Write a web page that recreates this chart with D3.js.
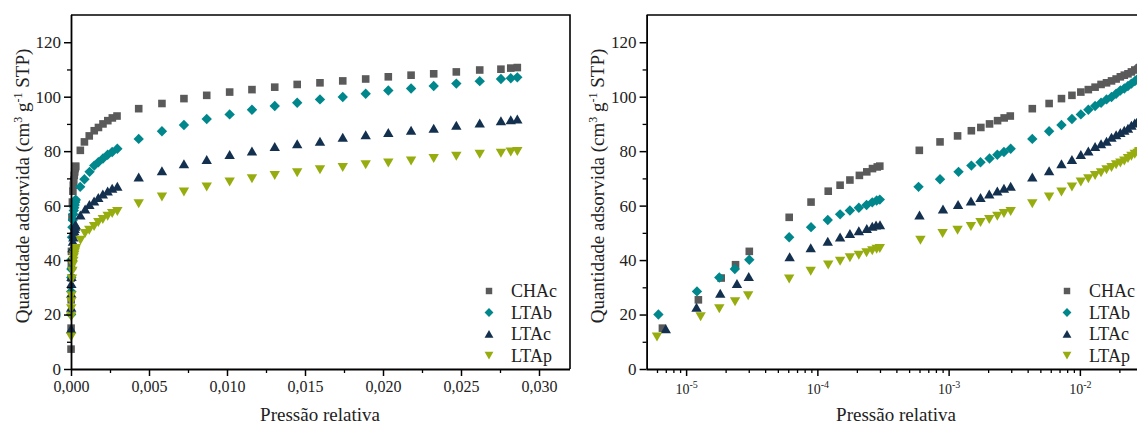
<!DOCTYPE html>
<html>
<head>
<meta charset="utf-8">
<script src="https://cdn.jsdelivr.net/npm/d3@7"></script>
<style>
  html, body { margin: 0; padding: 0; background: #fff; overflow: hidden; }
  svg, svg text { font-family: "Liberation Serif", "Noto Serif", "DejaVu Serif", "Nimbus Roman", "Nimbus Roman No9 L", "FreeSerif", "Tinos", "Times New Roman", Times, serif; }
</style>
</head>
<body>
<svg id="chart" width="1137" height="425"></svg>
<script>
// N2 adsorption isotherms: relative pressure vs adsorbed quantity (cm3/g STP)
const seriesNames = ["CHAc", "LTAb", "LTAc", "LTAp"];
const seriesColors = ["#5a5a5a", "#00878c", "#14304f", "#97ad0f"];
const seriesShapes = ["square", "diamond", "up", "down"];

const highP = [0.00434, 0.00583, 0.00724, 0.00870, 0.01017, 0.01160, 0.01306, 0.01450, 0.01596,
  0.01742, 0.01889, 0.02034, 0.02180, 0.02325, 0.02470, 0.02620, 0.02756, 0.02819, 0.02861];

const pCHAc = [3.0e-6, 6.6e-6, 1.24e-5, 1.85e-5, 2.38e-5, 3.03e-5, 6.1e-5, 8.95e-5, 1.21e-4, 1.49e-4,
  1.77e-4, 2.09e-4, 2.38e-4, 2.63e-4, 2.86e-4, 2.99e-4, 5.98e-4, 8.6e-4, 1.17e-3, 1.49e-3,
  1.76e-3, 2.05e-3, 2.36e-3, 2.65e-3, 2.95e-3, ...highP];
const qCHAc = [7.3, 15.0, 25.4, 33.4, 38.3, 43.2, 55.7, 61.3, 65.3, 67.5,
  69.4, 71.1, 72.4, 73.6, 74.2, 74.5, 80.3, 83.4, 85.6, 87.5,
  88.7, 90.0, 91.2, 92.2, 92.9,
  95.6, 97.5, 99.3, 100.5, 101.7, 102.6, 103.5, 104.5, 105.1, 105.8,
  106.5, 107.3, 107.9, 108.4, 109.1, 109.8, 110.1, 110.5, 110.7];

const pLTAb = [6.15e-6, 1.21e-5, 1.79e-5, 2.35e-5, 3.03e-5, 6.1e-5, 8.95e-5, 1.2e-4, 1.49e-4, 1.77e-4,
  2.07e-4, 2.37e-4, 2.62e-4, 2.83e-4, 2.99e-4, 5.9e-4, 8.6e-4, 1.19e-3, 1.49e-3, 1.75e-3,
  2.05e-3, 2.35e-3, 2.64e-3, 2.97e-3, ...highP];
const qLTAb = [20.0, 28.5, 33.6, 36.7, 40.1, 48.4, 52.1, 54.7, 56.8, 58.2,
  59.2, 60.2, 61.2, 61.9, 62.2, 66.9, 69.7, 72.4, 74.7, 75.9,
  77.3, 78.7, 79.7, 80.9,
  84.5, 87.3, 89.6, 91.8, 93.5, 95.2, 96.6, 97.8, 99.0, 99.9,
  101.1, 102.3, 103.0, 103.9, 104.8, 105.7, 106.5, 106.8, 107.1];

const pLTAc = [7.0e-6, 1.2e-5, 1.82e-5, 2.44e-5, 3.0e-5, 6.15e-5, 8.9e-5, 1.2e-4, 1.49e-4, 1.77e-4,
  2.07e-4, 2.38e-4, 2.62e-4, 2.8e-4, 3.0e-4, 6.0e-4, 9.06e-4, 1.18e-3, 1.48e-3, 1.75e-3,
  2.04e-3, 2.35e-3, 2.64e-3, 2.97e-3, ...highP];
const qLTAc = [14.7, 22.6, 27.8, 31.4, 33.9, 41.2, 44.5, 46.9, 48.4, 49.7,
  50.7, 51.6, 52.4, 52.8, 52.9, 56.5, 58.7, 60.4, 61.7, 62.9,
  64.2, 65.3, 66.3, 67.1,
  70.5, 72.8, 75.3, 76.9, 78.7, 80.0, 81.7, 82.7, 83.6, 85.1,
  86.0, 86.8, 87.6, 88.4, 89.5, 90.3, 91.1, 91.5, 91.8];

const pLTAp = [6.0e-6, 1.29e-5, 1.79e-5, 2.36e-5, 2.97e-5, 6.1e-5, 8.9e-5, 1.21e-4, 1.49e-4, 1.77e-4,
  2.07e-4, 2.37e-4, 2.62e-4, 2.83e-4, 2.99e-4, 6.1e-4, 9.0e-4, 1.17e-3, 1.48e-3, 1.75e-3,
  2.04e-3, 2.35e-3, 2.64e-3, 2.97e-3, ...highP];
const qLTAp = [11.8, 19.2, 22.2, 24.7, 26.9, 33.1, 35.9, 38.2, 39.6, 40.9,
  41.8, 42.7, 43.5, 44.0, 44.3, 47.3, 49.8, 51.0, 52.4, 53.8,
  54.9, 56.1, 57.1, 57.9,
  60.7, 63.2, 65.0, 66.9, 68.7, 69.9, 71.1, 72.1, 73.2, 74.0,
  75.0, 75.7, 76.4, 77.3, 78.2, 78.9, 79.3, 79.7, 79.9];

const linearTicks = [0, 0.005, 0.010, 0.015, 0.020, 0.025, 0.030];
const logTicks = [1e-5, 1e-4, 1e-3, 1e-2];
const yTicks = [0, 20, 40, 60, 80, 100, 120];

const pressures = [pCHAc, pLTAb, pLTAc, pLTAp];
const quantities = [qCHAc, qLTAb, qLTAc, qLTAp];
const series = seriesNames.map((name, i) => ({
  name, color: seriesColors[i], shape: seriesShapes[i],
  points: pressures[i].map((p, j) => ({ p, q: quantities[i][j] }))
}));

const svg = d3.select("#chart");
const plotTop = 15, plotBottom = 369;
const FONT = '"Liberation Serif", "Noto Serif", "DejaVu Serif", "Nimbus Roman", "FreeSerif", "Tinos", "Times New Roman", Times, serif';

// Marker outlines, centred on their bounding box
function markerPath(shape) {
  switch (shape) {
    case "square": return "M-3.8,-3.8H3.8V3.8H-3.8Z";
    case "diamond": return "M0,-5.2L5.2,0L0,5.2L-5.2,0Z";
    case "up": return "M0,-4.6L5.2,4.4L-5.2,4.4Z";
    case "down": return "M0,4.6L5.2,-4.4L-5.2,-4.4Z";
  }
}

function drawPanel(opts) {
  const { left, right, x, xTickValues, xMinor, xFormat, titleX, ylabelX, legendX } = opts;
  const y = d3.scaleLinear().domain([0, 130]).range([plotBottom, plotTop]);
  const g = svg.append("g").attr("font-family", FONT);

  // frame (top and right edges)
  g.append("path")
    .attr("d", `M${left},${plotTop}H${right}V${plotBottom}`)
    .attr("fill", "none").attr("stroke", "#000").attr("stroke-width", 1.6);

  // points
  series.forEach(s => {
    g.append("g").selectAll("path")
      .data(s.points.filter(d => opts.linear || (d.p >= x.domain()[0] && d.p <= x.domain()[1])))
      .join("path")
      .attr("d", markerPath(s.shape))
      .attr("transform", d => `translate(${x(d.p)},${y(d.q)})`)
      .attr("fill", s.color);
  });

  // x axis
  const xAxis = d3.axisBottom(x).tickValues(xTickValues).tickSize(7).tickSizeOuter(0).tickFormat(() => "");
  const xa = g.append("g").attr("transform", `translate(0,${plotBottom})`).call(xAxis).attr("font-family", FONT);
  xa.select(".domain").attr("stroke-width", 1.8).attr("d", `M${left},0.5H${right}`);
  xa.selectAll(".tick line").attr("stroke-width", 1.5);
  xa.selectAll(".tick text").remove();
  const xm = d3.axisBottom(x).tickValues(xMinor).tickSize(4).tickFormat(() => "");
  const xmg = g.append("g").attr("transform", `translate(0,${plotBottom})`).call(xm);
  xmg.select(".domain").remove();
  xmg.selectAll(".tick line").attr("stroke-width", 1.3);
  xmg.selectAll(".tick text").remove();
  xa.selectAll(".tick").each(function(d) {
    xFormat(d3.select(this), d);
  });

  // y axis
  const yAxis = d3.axisLeft(y).tickValues(yTicks).tickSize(7).tickSizeOuter(0).tickPadding(3);
  const ya = g.append("g").attr("transform", `translate(${left},0)`).call(yAxis).attr("font-family", FONT);
  ya.select(".domain").attr("stroke-width", 1.8).attr("d", `M0.5,${plotBottom}V${plotTop}`);
  ya.selectAll(".tick line").attr("stroke-width", 1.5);
  ya.selectAll(".tick text").attr("font-size", 17).attr("fill", "#222");
  const ym = d3.axisLeft(y).tickValues([10, 30, 50, 70, 90, 110]).tickSize(4).tickFormat(() => "");
  const ymg = g.append("g").attr("transform", `translate(${left},0)`).call(ym);
  ymg.select(".domain").remove();
  ymg.selectAll(".tick line").attr("stroke-width", 1.3);
  ymg.selectAll(".tick text").remove();

  // axis titles
  g.append("text").attr("x", titleX).attr("y", 421).attr("text-anchor", "middle")
    .attr("font-size", 19).attr("fill", "#222").text("Pressão relativa");
  const yl = g.append("text")
    .attr("transform", `translate(${ylabelX},${(plotTop + plotBottom) / 2 - 6}) rotate(-90)`)
    .attr("text-anchor", "middle").attr("font-size", 19).attr("fill", "#222");
  yl.append("tspan").text("Quantidade adsorvida (cm");
  yl.append("tspan").attr("font-size", 12).attr("dy", -7).text("3");
  yl.append("tspan").attr("dy", 7).text(" g");
  yl.append("tspan").attr("font-size", 12).attr("dy", -7).text("-1");
  yl.append("tspan").attr("dy", 7).text(" STP)");

  // legend
  const lg = g.append("g");
  series.forEach((s, i) => {
    const ly = 291 + i * 21.5;
    lg.append("path").attr("d", markerPath(s.shape))
      .attr("transform", `translate(${legendX},${ly}) scale(0.85)`).attr("fill", s.color);
    lg.append("text").attr("x", legendX + 22).attr("y", ly + 6)
      .attr("font-size", 18).attr("fill", "#222").text(s.name);
  });
}

// Linear pressure panel
const xLin = d3.scaleLinear().domain([0, 0.032]).range([71, 570.2]);
drawPanel({
  left: 71, right: 570, x: xLin, linear: true,
  xTickValues: linearTicks,
  xMinor: [0.0025, 0.0075, 0.0125, 0.0175, 0.0225, 0.0275],
  xFormat: (sel, d) => sel.append("text").attr("y", 23).attr("fill", "#222")
    .attr("font-size", 16)
    .text(d.toFixed(3).replace(".", ",")),
  titleX: 320, ylabelX: 29, legendX: 489
});

// Logarithmic pressure panel
const xLog = d3.scaleLog().domain([5e-6, 0.03]).range([646.6, 1142.5]);
const logMinor = [];
[1e-6, 1e-5, 1e-4, 1e-3, 1e-2].forEach(dec => {
  for (let k = 2; k <= 9; k++) {
    const v = dec * k;
    if (v >= 5e-6 && v <= 0.03) logMinor.push(v);
  }
});
drawPanel({
  left: 646.6, right: 1142.5, x: xLog, linear: false,
  xTickValues: logTicks,
  xMinor: logMinor,
  xFormat: (sel, d) => {
    const t = sel.append("text").attr("y", 25).attr("fill", "#222")
      .attr("font-size", 14);
    t.append("tspan").text("10");
    t.append("tspan").attr("font-size", 10).attr("dy", -6).text(String(Math.round(Math.log10(d))));
  },
  titleX: 896, ylabelX: 604, legendX: 1067
});
</script>
</body>
</html>
